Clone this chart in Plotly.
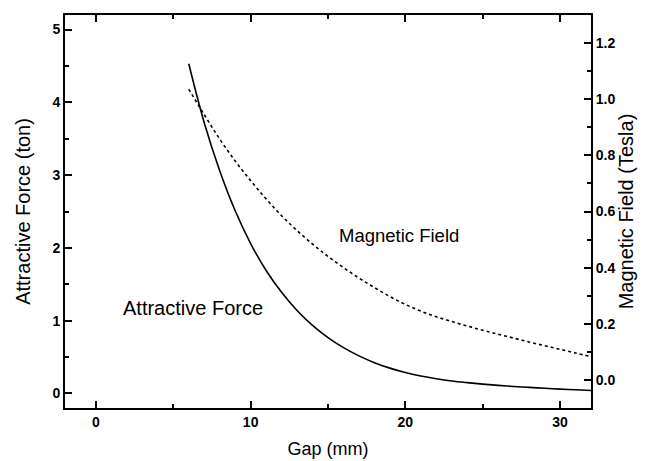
import plotly.graph_objects as go

gap_mm = [6, 7, 8, 9, 10, 11, 12, 13, 14, 15, 16, 17, 18, 19, 20,
          21, 22, 23, 24, 25, 26, 27, 28, 29, 30, 31, 32]
force_ton = [4.53, 3.72, 3.06, 2.51, 2.06, 1.69, 1.39, 1.14, 0.935, 0.767, 0.629, 0.516,
             0.423, 0.348, 0.287, 0.240, 0.202, 0.171, 0.148, 0.128, 0.111, 0.096,
             0.083, 0.071, 0.060, 0.050, 0.041]
field_tesla = [1.036, 0.945, 0.858, 0.780, 0.710, 0.645, 0.585, 0.532, 0.484, 0.440,
               0.400, 0.363, 0.329, 0.297, 0.269, 0.245, 0.225, 0.208, 0.192, 0.177,
               0.163, 0.149, 0.135, 0.122, 0.109, 0.096, 0.083]

FONT = "Liberation Sans, Arial, sans-serif"

fig = go.Figure()
fig.add_trace(go.Scatter(x=gap_mm, y=force_ton, mode="lines",
                         line=dict(color="black", width=1.6, shape="spline", smoothing=1.0),
                         showlegend=False))
fig.add_trace(go.Scatter(x=gap_mm, y=field_tesla, mode="lines", yaxis="y2",
                         line=dict(color="black", width=1.6, dash="dot", shape="spline", smoothing=1.0),
                         showlegend=False))

axis_common = dict(showline=True, linecolor="black", linewidth=2, ticks="inside", ticklen=7, tickwidth=2,
                   tickcolor="black", showgrid=False, zeroline=False, automargin=False,
                   tickfont=dict(family=FONT, size=14, color="black", weight="bold"),
                   minor=dict(ticks="inside", ticklen=4, tickwidth=1.5, tickcolor="black", showgrid=False))

fig.update_layout(
    width=639, height=453,
    margin=dict(l=57, r=56, t=7, b=53),
    paper_bgcolor="white", plot_bgcolor="white",
    font=dict(family=FONT, color="black"),
    xaxis=dict(range=[-2, 32], tickvals=[0, 10, 20, 30], mirror="ticks",
               title=dict(text="Gap (mm)", font=dict(size=18), standoff=14),
               **{**axis_common, "minor": dict(axis_common["minor"], dtick=5, tick0=0)}),
    yaxis=dict(range=[-0.2, 5.2], tickvals=[0, 1, 2, 3, 4, 5],
               title=dict(text="Attractive Force (ton)", font=dict(size=20), standoff=16),
               **{**axis_common, "minor": dict(axis_common["minor"], dtick=0.5, tick0=0)}),
    yaxis2=dict(range=[-0.1, 1.3], overlaying="y", side="right", tickvals=[0.0, 0.2, 0.4, 0.6, 0.8, 1.0, 1.2],
                tickformat=".1f",
                title=dict(text="Magnetic Field (Tesla)", font=dict(size=20), standoff=5),
                **{**axis_common, "minor": dict(axis_common["minor"], dtick=0.1, tick0=0)}),
    annotations=[
        dict(x=6.29, y=1.17, xref="x", yref="y", text="Attractive Force", showarrow=False,
             font=dict(family=FONT, size=20, color="black")),
        dict(x=19.6, y=2.17, xref="x", yref="y", text="Magnetic Field", showarrow=False,
             font=dict(family=FONT, size=18.5, color="black")),
    ],
)

fig.write_html("out.html")
